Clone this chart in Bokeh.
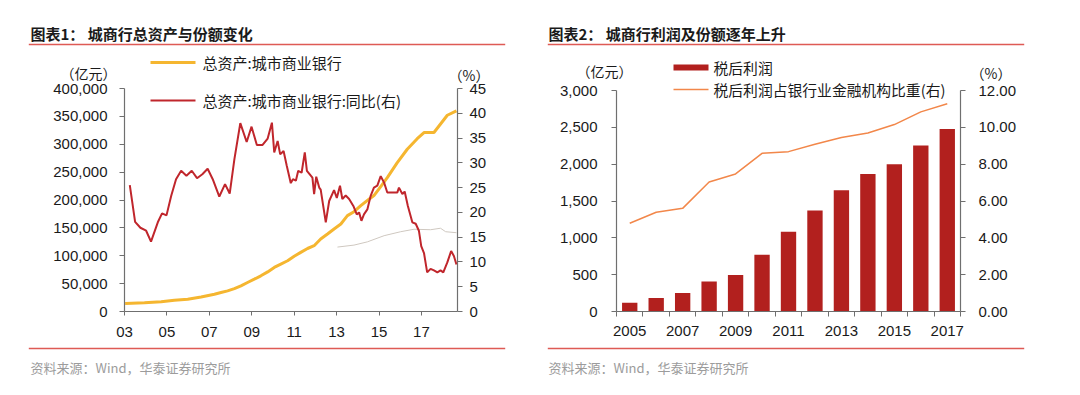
from bokeh.plotting import figure
from bokeh.models import Range1d, LinearAxis, FixedTicker, NumeralTickFormatter, Label, Arrow
from bokeh.layouts import row
from bokeh.embed import file_html
from bokeh.resources import INLINE

# ---------------- data: chart 1 ----------------
asset_t = [2003.03, 2003.94, 2004.73, 2005.35, 2005.98, 2006.61, 2007.24, 2007.55, 2007.86,
           2008.18, 2008.49, 2008.80, 2009.12, 2009.43, 2009.75, 2010.06, 2010.37, 2010.69,
           2011.00, 2011.31, 2011.63, 2011.94, 2012.25, 2012.57, 2012.88, 2013.20, 2013.51,
           2013.82, 2014.14, 2014.45, 2014.76, 2015.08, 2015.39, 2015.86, 2016.33, 2016.80,
           2017.12, 2017.59, 2018.22, 2018.65]
asset_v = [14400, 15600, 17400, 20000, 22000, 26000, 31000, 34000, 37000,
           41000, 46000, 52000, 58000, 64000, 71000, 79000, 85000, 91000,
           99000, 106000, 113000, 118000, 130000, 139000, 148000, 157000, 172000,
           179000, 190000, 199000, 208000, 224000, 240000, 267000, 291000, 310000,
           321000, 321000, 352000, 360000]

yoy_t = [2003.25, 2003.50, 2003.75, 2004.02, 2004.25, 2004.57, 2004.77, 2004.98, 2005.20, 2005.43,
         2005.67, 2005.92, 2006.17, 2006.42, 2006.67, 2006.92, 2007.16, 2007.47, 2007.74, 2007.96,
         2008.18, 2008.46, 2008.76, 2008.99, 2009.24, 2009.51, 2009.75, 2009.95, 2010.06, 2010.22,
         2010.34, 2010.50, 2010.65, 2010.84, 2010.94, 2011.08, 2011.19, 2011.35, 2011.50, 2011.60,
         2011.86, 2011.94, 2012.04, 2012.18, 2012.25, 2012.49, 2012.65, 2012.88, 2013.01, 2013.16,
         2013.27, 2013.43, 2013.59, 2013.79, 2013.95, 2014.06, 2014.17, 2014.29, 2014.45, 2014.61,
         2014.76, 2014.92, 2015.08, 2015.24, 2015.39, 2015.63, 2015.86, 2015.94, 2016.10, 2016.21,
         2016.36, 2016.57, 2016.73, 2016.88, 2016.99, 2017.12, 2017.27, 2017.43, 2017.59, 2017.75,
         2017.90, 2018.03, 2018.22, 2018.40, 2018.53, 2018.65]
yoy_v = [25.5, 18.1, 16.9, 16.3, 14.1, 18.0, 19.8, 19.4, 23.3, 26.7,
         28.4, 27.4, 28.4, 26.9, 27.7, 28.8, 26.7, 23.2, 25.7, 23.8,
         30.7, 38.0, 34.2, 37.3, 33.6, 33.6, 34.9, 38.1, 32.1, 34.4,
         31.7, 32.4, 29.4, 25.9, 26.7, 26.4, 28.4, 28.0, 32.1, 28.4,
         27.0, 23.7, 27.2, 25.0, 24.6, 18.0, 22.3, 24.5, 22.9, 25.4,
         22.7, 23.4, 22.7, 21.3, 19.6, 20.0, 18.3, 19.6, 20.6, 23.4,
         25.0, 25.4, 27.3, 26.0, 24.0, 24.0, 24.0, 25.0, 23.7, 24.2,
         21.3, 18.0, 17.7, 16.3, 13.2, 11.8, 7.9, 8.6, 8.3, 7.9,
         8.3, 7.9, 9.9, 12.2, 11.2, 9.5]

share_t = [2013.04, 2013.82, 2014.45, 2015.24, 2016.02, 2016.65, 2017.43, 2017.90, 2018.14, 2018.65]
share_v = [13.0, 13.4, 14.05, 15.3, 16.1, 16.6, 16.5, 16.8, 16.1, 15.9]

x1_ticks = [2003, 2005, 2007, 2009, 2011, 2013, 2015, 2017]
x1_labels = ["03", "05", "07", "09", "11", "13", "15", "17"]
y1_ticks = [0, 50000, 100000, 150000, 200000, 250000, 300000, 350000, 400000]
y1r_ticks = [0, 5, 10, 15, 20, 25, 30, 35, 40, 45]

title1 = "图表1： 城商行总资产与份额变化"
legend1 = ["总资产:城市商业银行", "总资产:城市商业银行:同比(右)"]

# ---------------- data: chart 2 ----------------
years2 = [2005, 2006, 2007, 2008, 2009, 2010, 2011, 2012, 2013, 2014, 2015, 2016, 2017]
profit = [120, 183, 252, 408, 495, 771, 1083, 1372, 1647, 1867, 2000, 2252, 2477]
profit_share = [4.79, 5.39, 5.60, 7.03, 7.47, 8.59, 8.68, 9.08, 9.45, 9.69, 10.15, 10.84, 11.28]
x2_ticks = [2005, 2007, 2009, 2011, 2013, 2015, 2017]
y2_ticks = [0, 500, 1000, 1500, 2000, 2500, 3000]
y2r_ticks = [0, 2, 4, 6, 8, 10, 12]

title2 = "图表2： 城商行利润及份额逐年上升"
legend2 = ["税后利润", "税后利润占银行业金融机构比重(右)"]
source_text = "资料来源：Wind，华泰证券研究所"
unit_left = "（亿元）"
unit_right = "（%）"

# ---------------- style ----------------
NUM_FONT = "Liberation Sans"
CJK_FONT = "Noto Sans CJK SC"
AX = "#6f6f6f"
TXT = "#1a1a1a"
YELLOW = "#F5B630"
RED = "#C0262C"
GRAY = "#CFC8C0"
BAR = "#B2201E"
ORANGE = "#F2874A"
RULE = "#DE5A55"
FOOT = "#9c9c9c"


def style_axis(ax, standoff, tick_out=5):
    ax.axis_line_color = AX
    ax.axis_line_width = 1.2
    ax.major_tick_line_color = AX
    ax.major_tick_out = tick_out
    ax.major_tick_in = 0
    ax.minor_tick_line_color = None
    ax.major_label_text_font = NUM_FONT
    ax.major_label_text_font_size = "15px"
    ax.major_label_text_color = TXT
    ax.major_label_standoff = standoff


def mapper(frame_left, frame_top, fw, fh, xr, yr):
    def f(px, py):
        x = xr[0] + (px - frame_left) / fw * (xr[1] - xr[0])
        y = yr[1] - (py - frame_top) / fh * (yr[1] - yr[0])
        return x, y
    return f


def add_text(p, m, px, py, text, font, size, color=TXT, style="normal", place="center"):
    x, y = m(px, py)
    p.add_layout(Label(x=x, y=y, text=text, text_font=font, text_font_size=size,
                       text_color=color, text_font_style=style, text_align="left",
                       text_baseline="middle"), place)


def add_hline(p, m, px0, px1, py, color, width):
    x0, y0 = m(px0, py)
    x1, _ = m(px1, py)
    p.add_layout(Arrow(end=None, x_start=x0, y_start=y0, x_end=x1, y_end=y0,
                       line_color=color, line_width=width))


def add_rule(p, m, px0, px1, py, color, place):
    x, y = m((px0 + px1) / 2, py)
    half = int(round((px1 - px0) / 2))
    p.add_layout(Label(x=x, y=y, text=" ", text_font_size="1.5px", text_align="center",
                       text_baseline="middle", background_fill_color=color,
                       padding=dict(left=half, right=half, top=0, bottom=0)), place)


# shared vertical frame placement (canvas pixels)
H = 379
FTOP, FBOT = 50, 311          # frame top / bottom
TOP, BOT = FTOP, H - FBOT

# ---------------- chart 1 ----------------
W1 = 540
L1, R1 = 124, 83
TICK1_TOP = 88                # pixel row of the highest tick
y1_end = 400000 + (TICK1_TOP - FTOP) * 400000 / (FBOT - TICK1_TOP)
xr1 = (2003.0, 2018.7)
yr1 = (0, y1_end)
p1 = figure(width=W1, height=H, min_border_left=L1, min_border_right=R1,
            min_border_top=TOP, min_border_bottom=BOT,
            x_range=Range1d(*xr1), y_range=Range1d(*yr1),
            output_backend="svg", toolbar_location=None)
p1.outline_line_color = None
p1.grid.visible = False
p1.extra_y_ranges = {"pct": Range1d(0, 45 * y1_end / 400000)}

p1.xaxis.ticker = FixedTicker(ticks=x1_ticks)
p1.xaxis.major_label_overrides = {t: l for t, l in zip(x1_ticks, x1_labels)}
style_axis(p1.xaxis[0], 11, 4)
p1.yaxis.ticker = FixedTicker(ticks=y1_ticks)
p1.yaxis.formatter = NumeralTickFormatter(format="0,0")
p1.yaxis.bounds = (0, 400000)
style_axis(p1.yaxis[0], 12)
ax1r = LinearAxis(y_range_name="pct", ticker=FixedTicker(ticks=y1r_ticks), bounds=(0, 45))
style_axis(ax1r, 7)
p1.add_layout(ax1r, "right")

p1.line(share_t, share_v, y_range_name="pct", line_color=GRAY, line_width=1)
p1.line(asset_t, asset_v, line_color=YELLOW, line_width=3)
p1.line(yoy_t, yoy_v, y_range_name="pct", line_color=RED, line_width=2)

m1 = mapper(L1, FTOP, W1 - L1 - R1, FBOT - FTOP, xr1, yr1)
add_text(p1, m1, 30, 33, title1, CJK_FONT, "15px", style="bold", place="above")
add_rule(p1, m1, 28, 505, 44, RULE, "above")
add_text(p1, m1, 60, 72, unit_left, CJK_FONT, "14px", place="above")
add_text(p1, m1, 448, 74, unit_right, CJK_FONT, "14px", place="right")
add_hline(p1, m1, 150, 195, 62, YELLOW, 3)
add_text(p1, m1, 202, 62, legend1[0], CJK_FONT, "15px")
add_hline(p1, m1, 150, 195, 100, RED, 2)
add_text(p1, m1, 202, 100, legend1[1], CJK_FONT, "15px")
add_rule(p1, m1, 28, 505, 348, RULE, "below")
add_text(p1, m1, 30, 367, source_text, CJK_FONT, "13px", color=FOOT, place="below")

# ---------------- chart 2 ----------------
X2 = 540
W2 = 524
L2, R2 = 76, 104
TICK2_TOP = 90
y2_end = 3000 + (TICK2_TOP - FTOP) * 3000 / (FBOT - TICK2_TOP)
xr2 = (2004.5, 2017.5)
yr2 = (0, y2_end)
p2 = figure(width=W2, height=H, min_border_left=L2, min_border_right=R2,
            min_border_top=TOP, min_border_bottom=BOT,
            x_range=Range1d(*xr2), y_range=Range1d(*yr2),
            output_backend="svg", toolbar_location=None)
p2.outline_line_color = None
p2.grid.visible = False
p2.extra_y_ranges = {"pct": Range1d(0, 12 * y2_end / 3000)}

p2.xaxis.ticker = FixedTicker(ticks=x2_ticks, minor_ticks=[y + 0.5 for y in [2004] + years2])
style_axis(p2.xaxis[0], 9, 0)
p2.xaxis.major_tick_line_color = None
p2.xaxis.minor_tick_line_color = AX
p2.xaxis.minor_tick_out = 5
p2.xaxis.minor_tick_in = 0
p2.yaxis.ticker = FixedTicker(ticks=y2_ticks)
p2.yaxis.formatter = NumeralTickFormatter(format="0,0")
p2.yaxis.bounds = (0, 3000)
style_axis(p2.yaxis[0], 14)
ax2r = LinearAxis(y_range_name="pct", ticker=FixedTicker(ticks=y2r_ticks),
                  formatter=NumeralTickFormatter(format="0.00"), bounds=(0, 12))
style_axis(ax2r, 13)
p2.add_layout(ax2r, "right")

p2.vbar(x=years2, top=profit, width=0.58, fill_color=BAR, line_color=None)
p2.line(years2, profit_share, y_range_name="pct", line_color=ORANGE, line_width=1.5)

m2 = mapper(X2 + L2, FTOP, W2 - L2 - R2, FBOT - FTOP, xr2, yr2)
add_text(p2, m2, 548, 33, title2, CJK_FONT, "15px", style="bold", place="above")
add_rule(p2, m2, 548, 1023, 44, RULE, "above")
add_text(p2, m2, 576, 70, unit_left, CJK_FONT, "14px", place="above")
add_text(p2, m2, 970, 72, unit_right, CJK_FONT, "14px", place="right")
add_hline(p2, m2, 673, 708, 67, BAR, 6)
add_text(p2, m2, 713, 67, legend2[0], CJK_FONT, "14.8px")
add_hline(p2, m2, 673, 708, 89, ORANGE, 1.5)
add_text(p2, m2, 713, 89, legend2[1], CJK_FONT, "14.8px")
add_rule(p2, m2, 548, 1023, 348, RULE, "below")
add_text(p2, m2, 548, 367, source_text, CJK_FONT, "13px", color=FOOT, place="below")

layout = row(p1, p2)
open("out.html", "w").write(file_html(layout, INLINE))
